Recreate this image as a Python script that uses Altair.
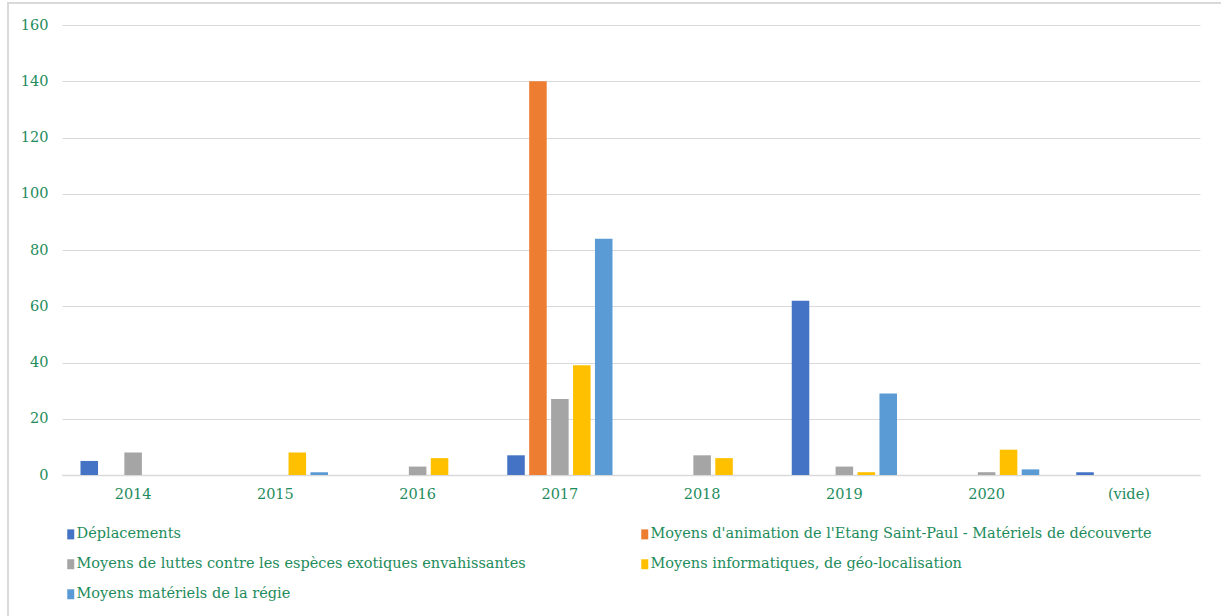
import altair as alt
import pandas as pd

years = ["2014", "2015", "2016", "2017", "2018", "2019", "2020", "(vide)"]
series = [
    "Déplacements",
    "Moyens d'animation de l'Etang Saint-Paul - Matériels de découverte",
    "Moyens de luttes contre les espèces exotiques envahissantes",
    "Moyens informatiques, de géo-localisation",
    "Moyens matériels de la régie",
]
colors = ["#4472C4", "#ED7D31", "#A5A5A5", "#FFC000", "#5B9BD5"]

deplacements = [5, None, None, 7, None, 62, None, 1]
animation = [None, None, None, 140, None, None, None, None]
luttes = [8, None, 3, 27, 7, 3, 1, None]
informatiques = [None, 8, 6, 39, 6, 1, 9, None]
materiels = [None, 1, None, 84, None, 29, 2, None]

values = [deplacements, animation, luttes, informatiques, materiels]
rows = []
for s, vals in zip(series, values):
    for y, v in zip(years, vals):
        if v is not None:
            rows.append({"year": y, "series": s, "value": v})
df = pd.DataFrame(rows)

# legend fills column by column: reorder so rows read like the original
legend_order = [0, 2, 4, 1, 3]
legend_domain = [series[i] for i in legend_order]
legend_range = [colors[i] for i in legend_order]

GREEN = "#1E8C5C"
FONT = "DejaVu Serif"

bars = alt.Chart(df).mark_bar().encode(
    x=alt.X("year:N", sort=years,
            scale=alt.Scale(domain=years, paddingInner=0.26, paddingOuter=0.13),
            axis=alt.Axis(title=None, labelAngle=0, ticks=False, domain=True,
                          domainColor="#D9D9D9", domainWidth=1.5, labelPadding=12,
                          grid=False)),
    xOffset=alt.XOffset("series:N", sort=series,
                        scale=alt.Scale(domain=series, paddingInner=0.2, paddingOuter=0)),
    y=alt.Y("value:Q",
            scale=alt.Scale(domain=[0, 160], nice=False),
            axis=alt.Axis(title=None, values=list(range(0, 161, 20)), ticks=False,
                          domain=False, labelPadding=14, gridColor="#D9D9D9")),
    color=alt.Color("series:N",
                    scale=alt.Scale(domain=legend_domain, range=legend_range),
                    legend=alt.Legend(title=None, orient="none", legendX=0, legendY=502,
                                      padding=0,
                                      columns=2, columnPadding=110, rowPadding=15,
                                      symbolType="M-0.4,-1H1V1H-0.4Z",
                                      symbolSize=100, symbolStrokeWidth=0,
                                      labelOffset=0, labelLimit=700)),
)

frame = alt.Chart(alt.Data(values=[{}])).mark_rect(
    fill=None, stroke="#D9D9D9", strokeWidth=2
).encode(
    x=alt.value(-54), x2=alt.value(1170), y=alt.value(-22), y2=alt.value(600)
)

chart = alt.layer(frame, bars).properties(
    width=1138, height=450,
    autosize=alt.AutoSizeParams(type="none"),
    padding={"left": 62, "top": 25, "right": 21, "bottom": 141},
).configure_view(stroke=None).configure_axis(
    labelFont=FONT, labelFontSize=14.5, labelColor=GREEN
).configure_legend(
    labelFont=FONT, labelFontSize=14.5, labelColor=GREEN
)

chart.save("out.html", embed_options={"renderer": "svg", "actions": False})
